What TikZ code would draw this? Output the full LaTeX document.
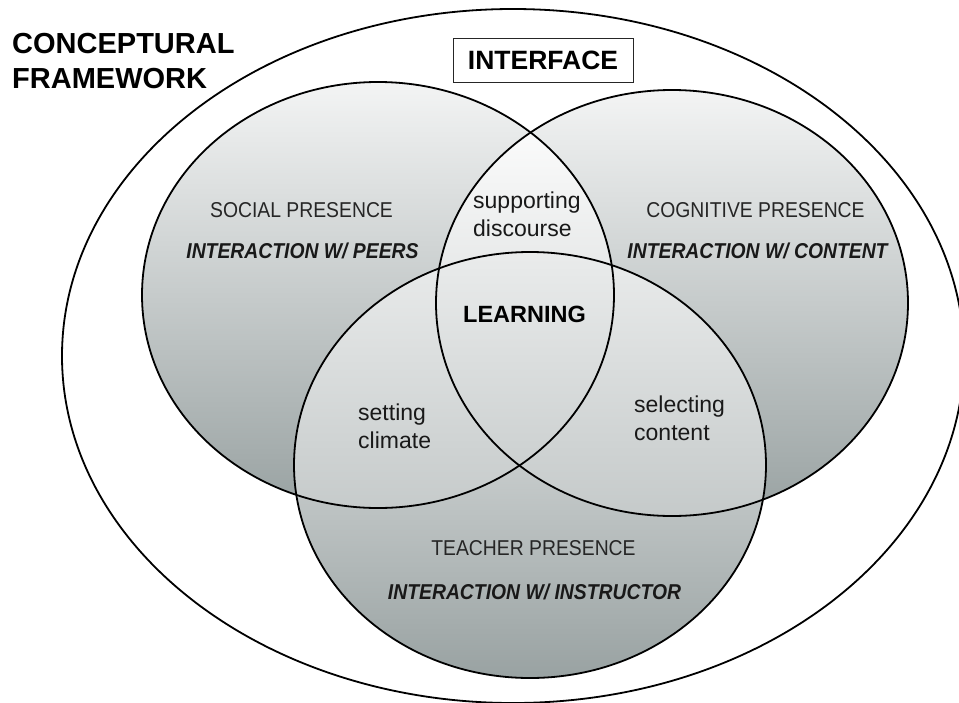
\documentclass[tikz,border=0pt]{standalone}
\usepackage{fontspec}
\setmainfont{Liberation Sans}
\newfontfamily\narrowfont[FakeStretch=0.9]{Liberation Sans}
\definecolor{circtop}{HTML}{F3F4F4}
\definecolor{circbot}{HTML}{99A2A2}
\definecolor{lensbot}{HTML}{C3C8C8}
\def\pSoc{(378,295) ellipse [x radius=236pt, y radius=213pt]}
\def\pCog{(672,303) ellipse [x radius=236pt, y radius=213pt]}
\def\pTea{(530,465) ellipse [x radius=236pt, y radius=213pt]}
\begin{document}
\begin{tikzpicture}[x=1pt,y=-1pt,
  ring/.style={draw=black, line width=1.8pt},
  circfill/.style={top color=circtop, bottom color=circbot},
  lensfill/.style={top color=white, bottom color=lensbot},
  presence/.style={font=\narrowfont\fontsize{21.5}{26}\selectfont, text=black!85, inner sep=0, anchor=base},
  role/.style={font=\narrowfont\bfseries\itshape\fontsize{21.5}{26}\selectfont, text=black!90, inner sep=0, anchor=base},
  innerlabel/.style={font=\fontsize{23}{28}\selectfont, inner sep=0, text=black!90}]
\useasboundingbox (0,0) rectangle (959,702);
\fill[white] (0,0) rectangle (959,702);
% outer ellipse
\draw[ring] (513,356) ellipse [x radius=451pt, y radius=347pt];
% circle fills
\shade[circfill] \pSoc;
\shade[circfill] \pCog;
\shade[circfill] \pTea;
% overlaps
\begin{scope}
  \clip \pSoc; \clip \pCog;
  \shade[lensfill] (100,100) rectangle (900,530);
\end{scope}
\begin{scope}
  \clip \pSoc; \clip \pTea;
  \shade[lensfill] (100,100) rectangle (900,530);
\end{scope}
\begin{scope}
  \clip \pCog; \clip \pTea;
  \shade[lensfill] (100,100) rectangle (900,530);
\end{scope}
% outlines
\draw[ring] \pSoc;
\draw[ring] \pCog;
\draw[ring] \pTea;
% title
\node[anchor=north west, inner sep=0, align=left,
      font=\bfseries\fontsize{29}{35}\selectfont] (cf) at (12,33) {CONCEPTURAL\\FRAMEWORK};
\node[draw=black!85, line width=1pt, minimum width=180pt, minimum height=44pt, inner sep=0,
      font=\bfseries\fontsize{26.5}{30}\selectfont] (iface) at (543,60) {INTERFACE};
% presences
\node[presence] (soc) at (301.5,217) {SOCIAL PRESENCE};
\node[role] (socr) at (302.5,258) {INTERACTION W/ PEERS};
\node[presence] (cog) at (755.5,217) {COGNITIVE PRESENCE};
\node[role] (cogr) at (757.5,258) {INTERACTION W/ CONTENT};
\node[presence] (tea) at (533.5,555.5) {TEACHER PRESENCE};
\node[role] (tear) at (534.5,599) {INTERACTION W/ INSTRUCTOR};
% overlaps labels
\node[innerlabel, anchor=north west, align=left] (sd) at (473,191.5) {supporting\\discourse};
\node[innerlabel, anchor=north west, align=left] (sc) at (358,403.5) {setting\\climate};
\node[innerlabel, anchor=north west, align=left] (sel) at (634,395.5) {selecting\\content};
\node[inner sep=0, anchor=base, font=\bfseries\fontsize{23.5}{28}\selectfont] (learn) at (524.5,322) {LEARNING};
\end{tikzpicture}
\end{document}
